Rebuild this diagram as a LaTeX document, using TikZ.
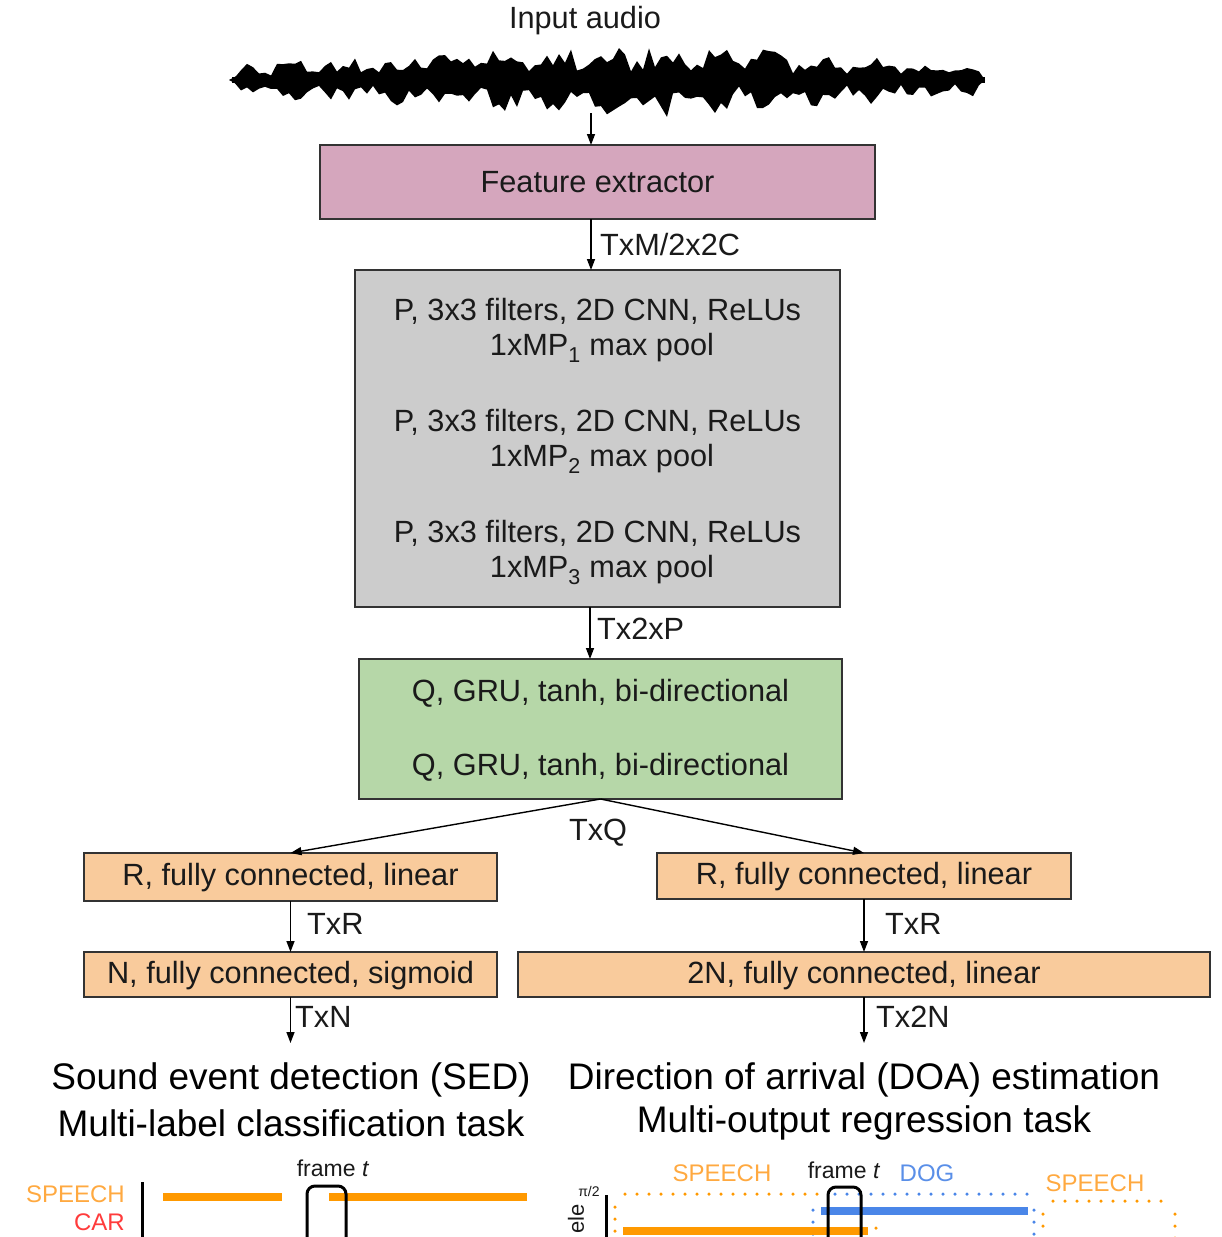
\documentclass[tikz,border=0pt]{standalone}
\usepackage{fontspec}
\setmainfont{Liberation Sans}
\usetikzlibrary{arrows.meta}
\definecolor{pinkfill}{HTML}{D5A6BD}
\definecolor{grayfill}{HTML}{CCCCCC}
\definecolor{greenfill}{HTML}{B6D7A8}
\definecolor{orangefill}{HTML}{F9CB9C}
\definecolor{edgecol}{HTML}{333333}
\definecolor{txtcol}{HTML}{1A1A1A}
\definecolor{orbar}{HTML}{FF9900}
\definecolor{ortext}{HTML}{FFA940}
\definecolor{redtext}{HTML}{FF3B3B}
\definecolor{bluebar}{HTML}{4A86E8}
\definecolor{bluetext}{HTML}{5A8FE8}
\tikzset{
  blk/.style={draw=edgecol, line width=1.6pt, inner sep=0pt, outer sep=0pt},
  lbl/.style={font=\fontsize{30.7}{36}\selectfont, text=txtcol, inner sep=0pt},
  big/.style={font=\fontsize{37}{44}\selectfont, text=black, inner sep=0pt},
  small/.style={font=\fontsize{24}{28}\selectfont, inner sep=0pt},
  arr/.style={line width=1.4pt, -{Triangle[width=8pt,length=11pt]}},
  thickbar/.style={line width=8pt},
  dotline/.style={line width=3.5pt, line cap=round, dash pattern=on 0pt off 12pt},
  framebox/.style={line width=3pt, rounded corners=8pt},
}
\begin{document}
\begin{tikzpicture}[x=1pt, y=-1pt,
  declare function={env(\t)=(12+27*exp(-((\t-610)/300)^2))*(0.45+0.55*abs(sin(\t*3.4)))*min(1,(\t-232)/12)*min(1,(985-\t)/8);}]
\useasboundingbox (0,0) rectangle (1221,1237);
\clip (0,0) rectangle (1221,1237);

% title and waveform
\node[lbl] (inaudio) at (585,21) {Input audio};
\pgfmathsetseed{23}
\fill[black] (232,80) \foreach \x in {235,241,...,980} { -- (\x,{80-env(\x)*(0.35+0.65*rnd)}) } -- (985,80) -- cycle;
\fill[black] (232,80) \foreach \x in {235,241,...,980} { -- (\x,{80+env(\x)*(0.35+0.65*rnd)}) } -- (985,80) -- cycle;
\fill[black] (229,80) -- (242,73) -- (242,87) -- cycle;
\fill[black] (232,77) rectangle (985,83);
\coordinate (w) at (591,113);

% boxes
\node[blk, fill=pinkfill, minimum width=555pt, minimum height=74pt] (fe) at (597.5,182) {};
\node[lbl] (fetxt) at (597.5,182) {Feature extractor};

\node[blk, fill=grayfill, minimum width=485pt, minimum height=337pt] (cnn) at (597.5,438.5) {};
\node[lbl] (c1a) at (597.5,311) {P, 3x3 filters, 2D CNN, ReLUs};
\node[lbl] (c1b) at (602,348) {1xMP\textsubscript{1} max pool};
\node[lbl] (c2a) at (597.5,422) {P, 3x3 filters, 2D CNN, ReLUs};
\node[lbl] (c2b) at (602,459) {1xMP\textsubscript{2} max pool};
\node[lbl] (c3a) at (597.5,533) {P, 3x3 filters, 2D CNN, ReLUs};
\node[lbl] (c3b) at (602,570) {1xMP\textsubscript{3} max pool};

\node[blk, fill=greenfill, minimum width=483pt, minimum height=140pt] (gru) at (600.5,729) {};
\node[lbl] (g1) at (600.5,693) {Q, GRU, tanh, bi-directional};
\node[lbl] (g2) at (600.5,767) {Q, GRU, tanh, bi-directional};

\node[blk, fill=orangefill, minimum width=413pt, minimum height=48pt] (r1l) at (290.5,877) {};
\node[lbl] (r1ltxt) at (290.5,878) {R, fully connected, linear};
\node[blk, fill=orangefill, minimum width=414pt, minimum height=46pt] (r1r) at (864,876) {};
\node[lbl] (r1rtxt) at (864,877) {R, fully connected, linear};
\node[blk, fill=orangefill, minimum width=413pt, minimum height=45pt] (nl) at (290.5,974.5) {};
\node[lbl] (nltxt) at (290.5,976) {N, fully connected, sigmoid};
\node[blk, fill=orangefill, minimum width=692pt, minimum height=45pt] (nr) at (864,974.5) {};
\node[lbl] (nrtxt) at (864,976) {2N, fully connected, linear};

% connectors
\coordinate (a1) at (591,0);
\coordinate (a2) at (590,0);
\coordinate (ol) at (290.5,1043);
\coordinate (or) at (864,1043);
\draw[arr] (w) -- (w |- fe.north);
\draw[arr] (fe.south -| a1) -- (cnn.north -| a1);
\draw[arr] (cnn.south -| a2) -- (gru.north -| a2);
\draw[arr] (gru.south) -- (r1l.north);
\draw[arr] (gru.south) -- (r1r.north);
\draw[arr] (r1l.south) -- (nl.north);
\draw[arr] (r1r.south) -- (nr.north);
\draw[arr] (nl.south) -- (ol);
\draw[arr] (nr.south) -- (or);

% connector labels
\node[lbl, anchor=west] (l1) at (600,245) {TxM/2x2C};
\node[lbl, anchor=west] (l2) at (597,629) {Tx2xP};
\node[lbl] (l3) at (598,833) {TxQ};
\node[lbl, anchor=west] (l4) at (307,924) {TxR};
\node[lbl, anchor=west] (l5) at (885,924) {TxR};
\node[lbl, anchor=west] (l6) at (295,1017) {TxN};
\node[lbl, anchor=west] (l7) at (876,1017) {Tx2N};

% task titles
\node[big] (t1) at (291,1080) {Sound event detection (SED)};
\node[big] (t2) at (291,1123) {Multi-label classification task};
\node[big] (t3) at (864,1080) {Direction of arrival (DOA) estimation};
\node[big] (t4) at (864,1123) {Multi-output regression task};

% SED plot
\node[small, text=ortext, anchor=east] (sp1) at (125,1194) {SPEECH};
\node[small, text=redtext, anchor=east] (car) at (125,1222) {CAR};
\draw[line width=3pt] (142,1182) -- (142,1245);
\draw[thickbar, orbar] (163,1197) -- (282,1197);
\draw[thickbar, orbar] (329,1197) -- (527,1197);
\draw[framebox] (307,1260) -- (307,1186) -- (346,1186) -- (346,1260);
\node[font=\fontsize{23}{28}\selectfont, text=txtcol, inner sep=0pt] (fr1) at (333,1168) {frame \textit{t}};

% DOA plot
\node[font=\fontsize{14}{16}\selectfont, text=txtcol, inner sep=0pt] (pi2) at (589,1191) {π/2};
\node[font=\fontsize{22}{26}\selectfont, text=txtcol, inner sep=0pt, rotate=90] (ele) at (576,1219) {ele};
\draw[line width=3pt] (606,1195) -- (606,1245);
\draw[dotline, orbar] (625,1194) -- (823,1194);
\draw[dotline, bluebar] (835,1194) -- (1027,1194);
\draw[dotline, orbar] (615,1207) -- (615,1250);
\draw[dotline, bluebar] (813,1210) -- (813,1250);
\draw[dotline, bluebar] (1034,1210) -- (1034,1250);
\draw[dotline, orbar] (1043,1214) -- (1043,1226);
\draw[dotline, orbar] (876,1228) -- (876,1250);
\draw[dotline, orbar] (1053,1201) -- (1165,1201);
\draw[dotline, orbar] (1175,1214) -- (1175,1250);
\draw[thickbar, orbar] (623,1231) -- (868,1231);
\draw[thickbar, bluebar] (821,1211) -- (1028,1211);
\draw[framebox] (828,1260) -- (828,1187) -- (861,1187) -- (861,1260);
\node[small, text=ortext] (sp2) at (722,1173) {SPEECH};
\node[font=\fontsize{23}{28}\selectfont, text=txtcol, inner sep=0pt] (fr2) at (844,1170) {frame \textit{t}};
\node[small, text=bluetext] (dog) at (927,1173) {DOG};
\node[small, text=ortext] (sp3) at (1095,1183) {SPEECH};
\end{tikzpicture}
\end{document}
